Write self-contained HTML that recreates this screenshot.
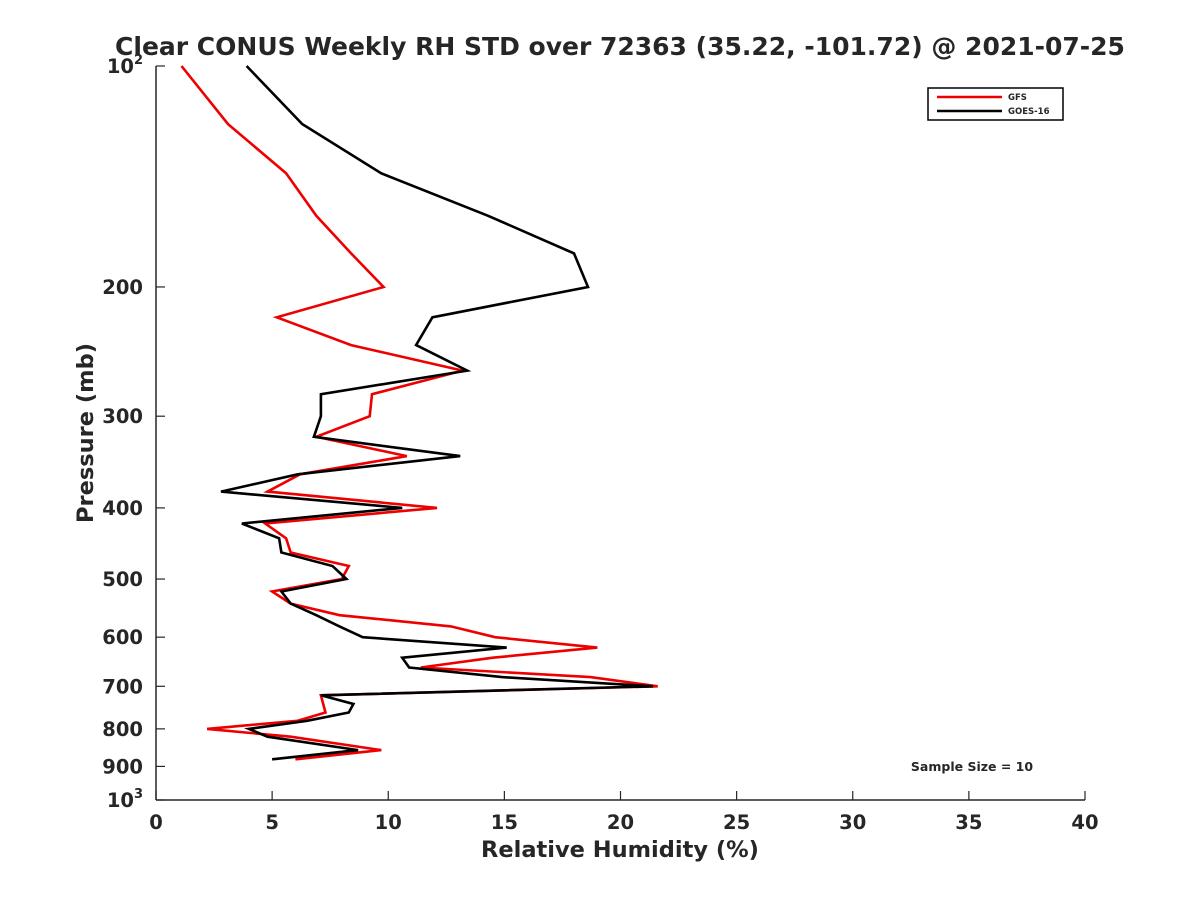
<!DOCTYPE html>
<html><head><meta charset="utf-8"><style>
body{margin:0;background:#fff}
text{font-family:"DejaVu Sans","Liberation Sans",sans-serif;font-weight:bold;fill:#262626}
</style></head><body>
<svg id="chart" width="1200" height="900" viewBox="0 0 1200 900" xmlns="http://www.w3.org/2000/svg">
<rect width="1200" height="900" fill="#fff"/>
<text x="620" y="55" text-anchor="middle" font-size="25" fill="#000">Clear CONUS Weekly RH STD over 72363 (35.22, -101.72) @ 2021-07-25</text>
<g id="axes"></g>
<g id="series"></g>
<text x="620" y="857" text-anchor="middle" font-size="22.5">Relative Humidity (%)</text>
<text transform="translate(93,433) rotate(-90)" text-anchor="middle" font-size="22.5">Pressure (mb)</text>
<text x="972" y="771" text-anchor="middle" font-size="12.5" fill="#000">Sample Size = 10</text>
<g>
<rect x="928" y="88" width="135" height="32" fill="#fff" stroke="#000" stroke-width="1.5"/>
<line x1="937" y1="97" x2="1002" y2="97" stroke="#e00" stroke-width="2.5"/>
<text x="1008" y="100" font-size="8.5" fill="#000">GFS</text>
<line x1="937" y1="111" x2="1002" y2="111" stroke="#000" stroke-width="2.5"/>
<text x="1008" y="114" font-size="8.5" fill="#000">GOES-16</text>
</g>
</svg>
<script>
const pressures=[100,120,140,160,180,200,220,240,260,280,300,320,340,360,380,400,420,440,460,480,500,520,540,560,580,600,620,640,660,680,700,720,740,760,780,800,820,855,880];
const gfsRH=[1.1,3.1,5.6,6.9,8.4,9.8,5.2,8.4,13.2,9.3,9.2,6.9,10.8,6.2,4.8,12.1,4.7,5.6,5.8,8.3,8.0,5.0,5.8,7.9,12.7,14.6,19.0,14.5,11.4,18.7,21.6,7.1,7.2,7.3,6.1,2.2,5.8,9.7,6.0];
const goesRH=[3.9,6.3,9.7,14.3,18.0,18.6,11.9,11.2,13.4,7.1,7.1,6.8,13.1,6.1,2.8,10.6,3.7,5.3,5.4,7.6,8.2,5.4,5.8,6.9,7.9,8.9,15.1,10.6,10.9,14.9,21.4,7.1,8.5,8.3,6.5,4.0,4.8,8.7,5.0];
const xTicks=[0,5,10,15,20,25,30,35,40];
const yTicks=[100,200,300,400,500,600,700,800,900,1000];
const X0=156,X1=1085,Y0=66,Y1=800;
const xs=v=>X0+(v-0)/40*(X1-X0);
const ys=p=>Y0+Math.log10(p/100)*(Y1-Y0);
const NS="http://www.w3.org/2000/svg";
function mk(tag,attrs,parent){const e=document.createElementNS(NS,tag);for(const k in attrs)e.setAttribute(k,attrs[k]);parent.appendChild(e);return e;}
const ax=document.getElementById('axes');
const xl=mk('line',{x1:X0,y1:Y1,x2:X1,y2:Y1,stroke:'#262626','stroke-width':1.5},ax);


const yl=mk('line',{x1:X0,y1:Y0,x2:X0,y2:Y1,stroke:'#262626','stroke-width':1.5},ax);


xTicks.forEach(v=>{const x=xs(v);
mk('line',{x1:x,y1:Y1,x2:x,y2:Y1-9,stroke:'#262626','stroke-width':1.2},ax);
const t=mk('text',{x:x,y:Y1+29,'text-anchor':'middle','font-size':19.5},ax);t.textContent=v;

});
yTicks.forEach(p=>{const y=ys(p);
mk('line',{x1:X0,y1:y,x2:X0+9,y2:y,stroke:'#262626','stroke-width':1.2},ax);
const t=mk('text',{x:X0-13,y:y+7,'text-anchor':'end','font-size':19.5},ax);
if(p===100||p===1000){t.textContent='10';const s=mk('tspan',{dy:-9,'font-size':13},t);s.textContent=p===100?'2':'3';}
else t.textContent=p;

});
const sg=document.getElementById('series');
function line(vals,color,name){const pts=vals.map((v,i)=>xs(v).toFixed(1)+','+ys(pressures[i]).toFixed(1)).join(' ');
const pl=mk('polyline',{points:pts,fill:'none',stroke:color,'stroke-width':2.6,'stroke-linejoin':'miter'},sg);

}
line(gfsRH,'#e00','gfs-line');
line(goesRH,'#000','goes16-line');
</script>
</body></html>
